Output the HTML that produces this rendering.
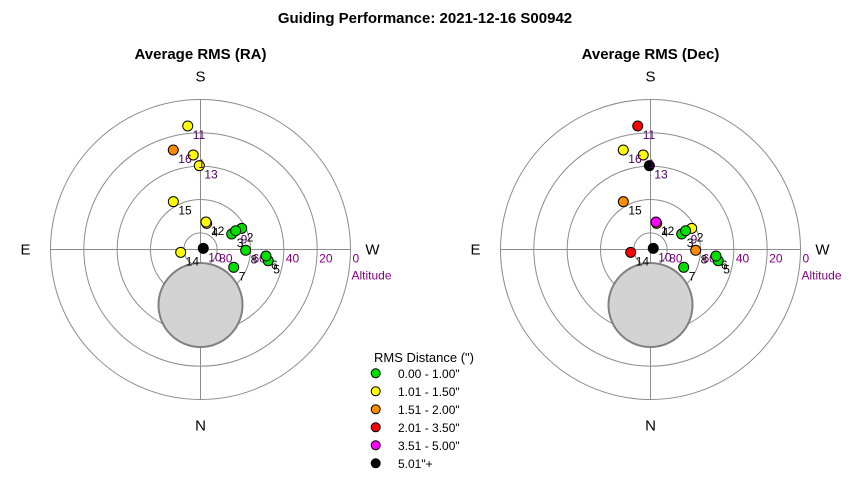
<!DOCTYPE html>
<html><head><meta charset="utf-8"><style>
body{margin:0;background:#fff;}
svg{display:block;font-family:"Liberation Sans",Arial,sans-serif;}
</style></head><body>
<svg id="chart" width="850" height="480" viewBox="0 0 850 480">
<text x="425" y="23" text-anchor="middle" font-size="15" font-weight="bold">Guiding Performance: 2021-12-16 S00942</text>
<g id="plots"></g>
<g id="legend">
<text x="374" y="362" font-size="13">RMS Distance (")</text>
</g>
</svg>
<script>
const pointIds = [1,2,3,4,5,6,7,8,9,10,11,12,13,14,15,16];
const azimuths = [175.6,242.8,243.6,193.3,279.4,275.7,298.2,271,241.9,246.8,174.1,191.3,179.2,81.9,150.4,164.7];
const altitudes = [33.1,62.2,69.1,73.9,48.8,50.5,67.4,62.9,66.1,88.2,15.5,73.2,39.7,78.0,57.0,28.1];
const raClasses = [1,0,0,1,0,0,0,0,0,5,1,1,1,1,1,2];
const decClasses = [1,1,0,2,0,0,0,2,0,5,3,4,5,3,2,1];
const altTicks = [80,60,40,20,0];
const legendLabels = ['0.00 - 1.00"','1.01 - 1.50"','1.51 - 2.00"','2.01 - 3.50"','3.51 - 5.00"','5.01"+'];
const moonAz = 0, moonAlt = 56.7, moonRadiusDeg = 25.2;
const colors = ['#00e000','#ffff00','#ff8c00','#ff0000','#ff00ff','#000000'];
const labelColors = {1:'#4b0060',11:'#4b0060',13:'#4b0060',16:'#4b0060',10:'#4b0060',9:'#4b0060'};

const NS='http://www.w3.org/2000/svg';
const R=150;
function el(tag,attrs,parent){const e=document.createElementNS(NS,tag);for(const k in attrs)e.setAttribute(k,attrs[k]);parent.appendChild(e);return e;}
function rScale(alt){return (90-alt)/90*R;}
function pos(cx,cy,az,alt){const r=rScale(alt),a=az*Math.PI/180;return [cx-r*Math.sin(a),cy+r*Math.cos(a)];}

function drawPlot(cx,cy,title,classes,name){
  const g=el('g',{},document.getElementById('plots'));
  
  
  const t=el('text',{x:cx,y:59,'text-anchor':'middle','font-size':15,'font-weight':'bold'},g);
  t.textContent=title;
  
  
  altTicks.forEach(a=>{
    const c=el('circle',{cx:cx,cy:cy,r:rScale(a),fill:'none',stroke:'#8c8c8c','stroke-width':1},g);
    
    
  });
  const h=el('line',{x1:cx-R,y1:cy,x2:cx+R,y2:cy,stroke:'#8c8c8c'},g);
  
  
  const v=el('line',{x1:cx,y1:cy-R,x2:cx,y2:cy+R,stroke:'#8c8c8c'},g);
  
  
  const mp=pos(cx,cy,moonAz,moonAlt);
  const m=el('circle',{cx:mp[0],cy:mp[1],r:moonRadiusDeg/90*R,fill:'#d3d3d3',stroke:'#808080','stroke-width':2},g);
  
  
  [['S',cx,cy-R-18,'middle'],['N',cx,cy+R+31,'middle'],['E',cx-R-25,cy+5,'middle'],['W',cx+R+22,cy+5,'middle']].forEach(d=>{
    const tx=el('text',{x:d[1],y:d[2],'text-anchor':d[3],'font-size':15},g);
    tx.textContent=d[0];
    
    
  });
  altTicks.forEach(a=>{
    const tx=el('text',{x:cx+rScale(a)+2,y:cy+13,'font-size':12,fill:'#800080'},g);
    tx.textContent=a;
    
    
  });
  const at=el('text',{x:cx+R+1,y:cy+30,'font-size':12,fill:'#800080'},g);
  at.textContent='Altitude';
  
  
  pointIds.forEach((id,i)=>{
    const p=pos(cx,cy,azimuths[i],altitudes[i]);
    const c=el('circle',{cx:p[0],cy:p[1],r:5,fill:colors[classes[i]],stroke:'#000','stroke-width':1},g);
    
    
  });
  pointIds.forEach((id,i)=>{
    const p=pos(cx,cy,azimuths[i],altitudes[i]);
    const tx=el('text',{x:p[0]+5,y:p[1]+13,'font-size':12,fill:labelColors[id]||'#000'},g);
    tx.textContent=id;
    
    
  });
}
drawPlot(200.5,249.5,'Average RMS (RA)',raClasses,'ra-polar-plot');
drawPlot(650.5,249.5,'Average RMS (Dec)',decClasses,'dec-polar-plot');

const lg=document.getElementById('legend');
legendLabels.forEach((lab,i)=>{
  const y=373.3+i*18;
  const c=el('circle',{cx:375.7,cy:y,r:4.5,fill:colors[i],stroke:'#000'},lg);
  
  
  const t=el('text',{x:398,y:y+4.5,'font-size':12},lg);
  t.textContent=lab;
  
  
});
</script>
</body></html>
